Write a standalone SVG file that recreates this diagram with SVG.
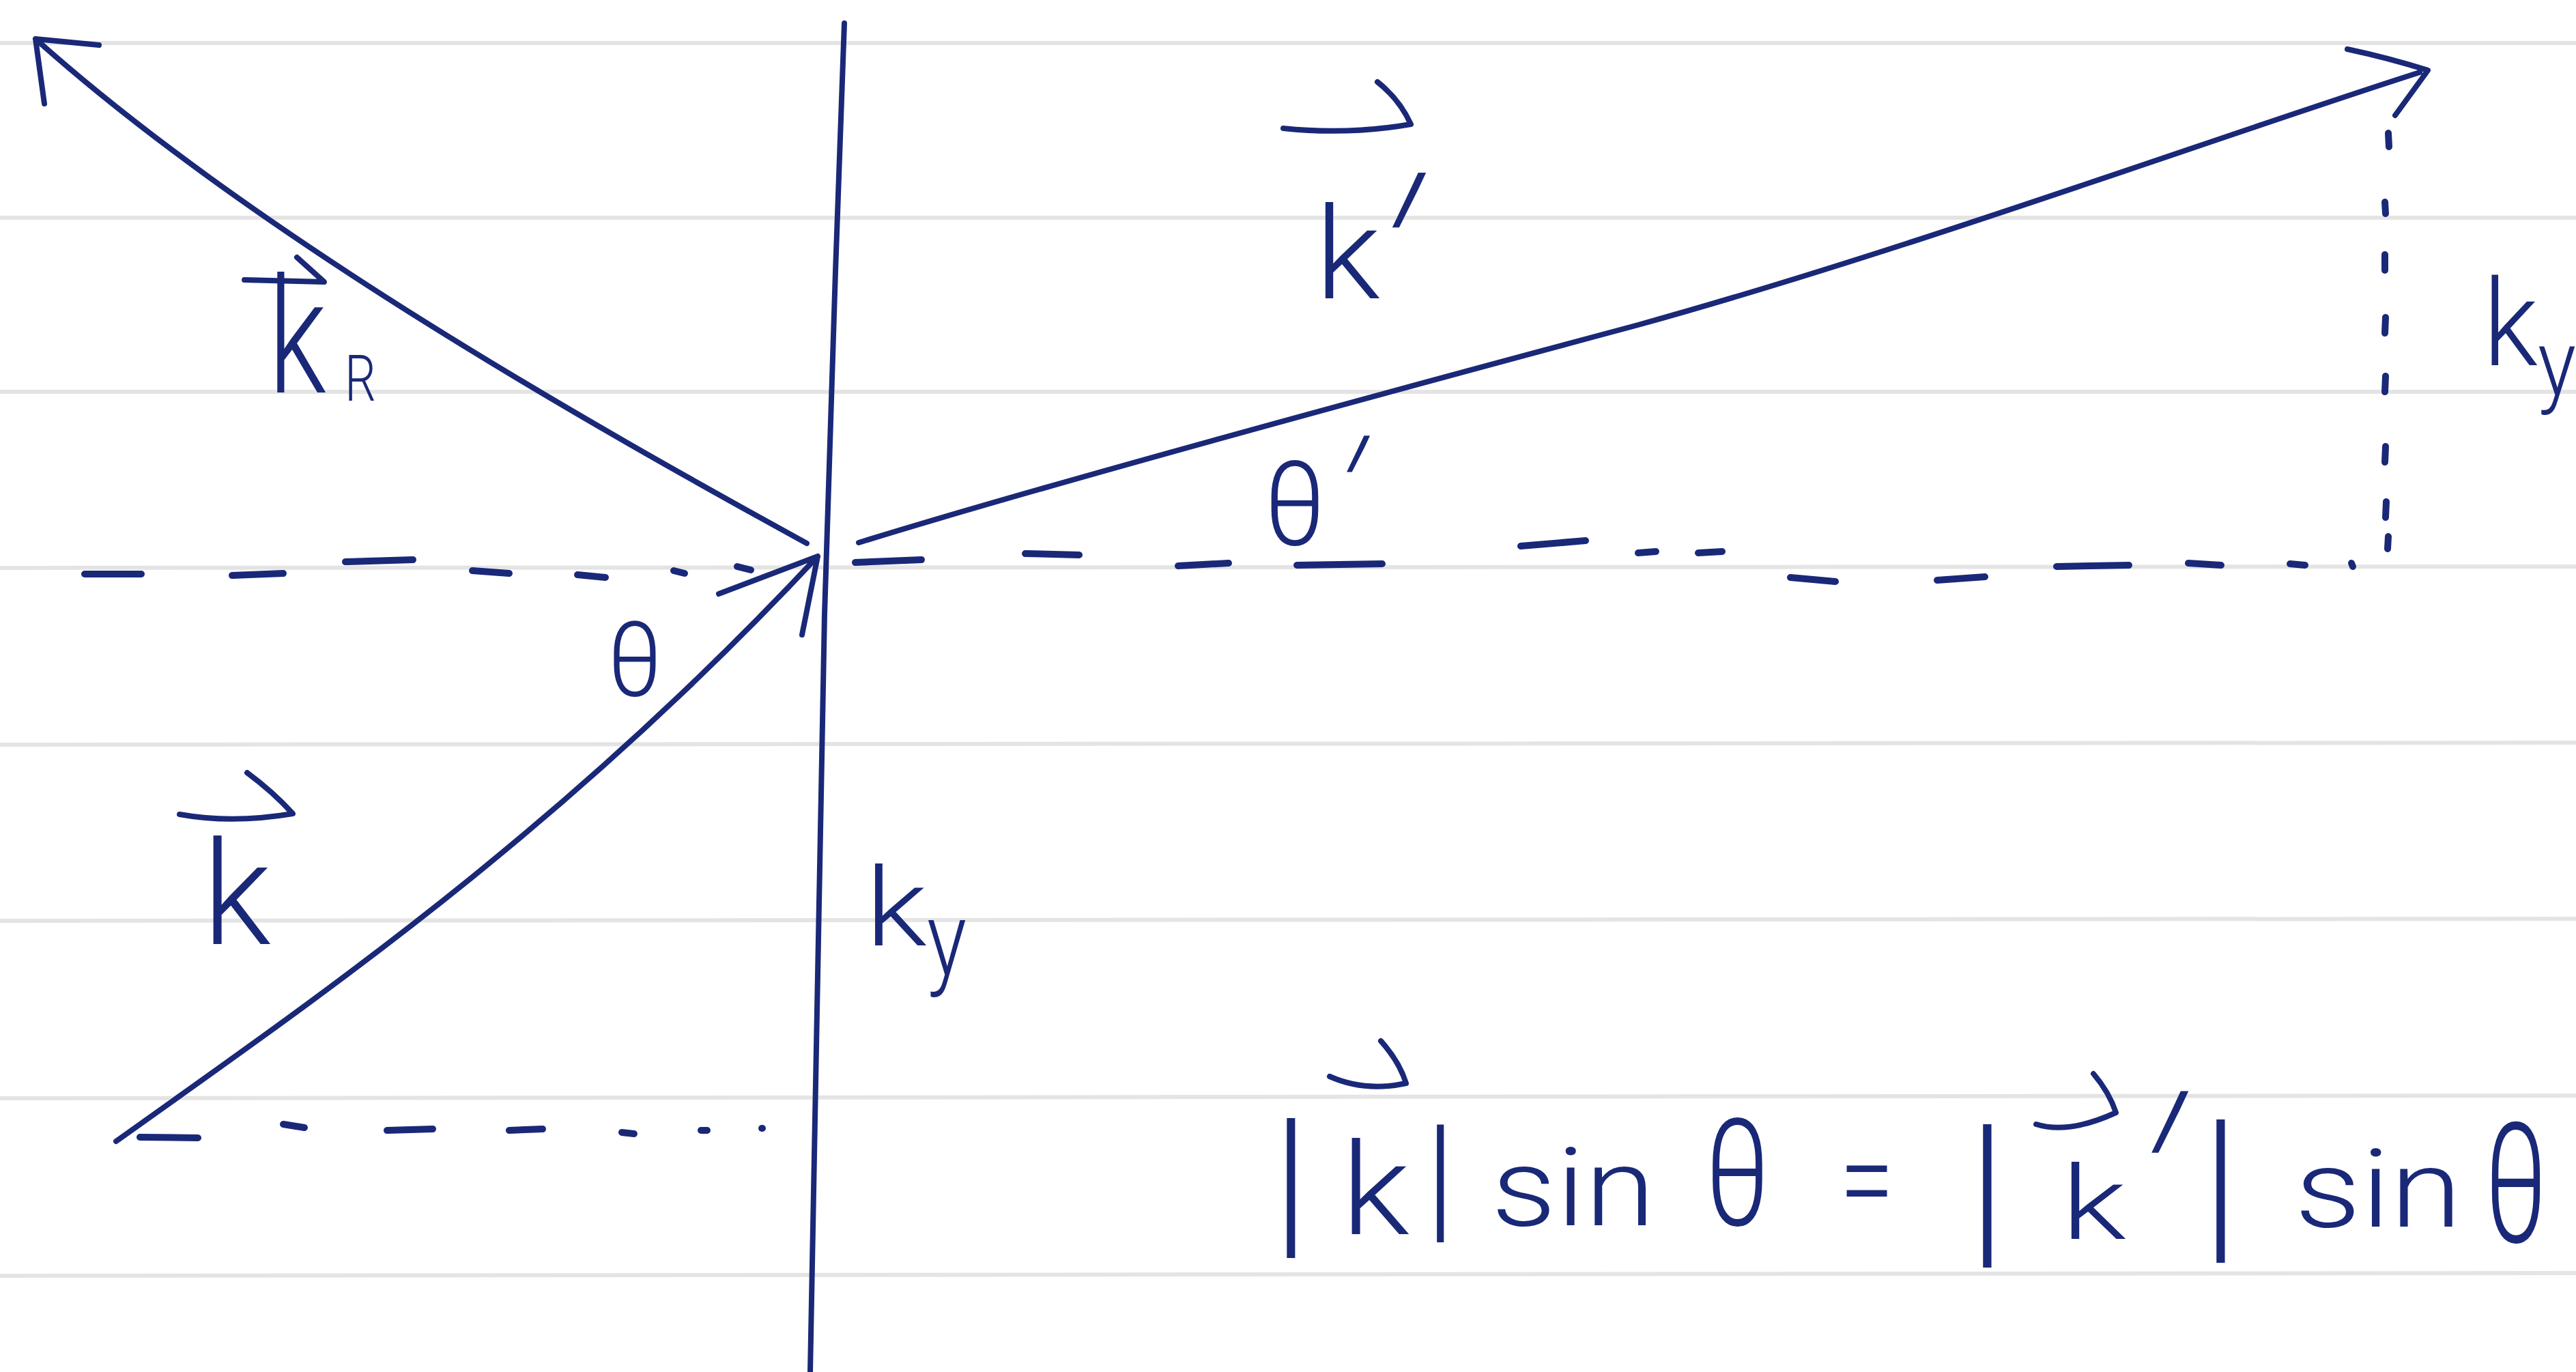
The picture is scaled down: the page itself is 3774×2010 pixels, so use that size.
<svg xmlns="http://www.w3.org/2000/svg" width="3774" height="2010" viewBox="0 0 3774 2010">
<defs>
<style>
.rule{stroke:#e4e4e4;stroke-width:6;fill:none}
.ink{fill:none;stroke:#1a2878;stroke-width:8;stroke-linecap:round;stroke-linejoin:round}
.dash{fill:none;stroke:#1a2878;stroke-width:10;stroke-linecap:round}
.t{font-family:"Roboto","Liberation Sans",sans-serif;font-weight:300;fill:#1a2878}
.m{text-anchor:middle}
</style>
</defs>
<rect width="3774" height="2010" fill="#ffffff"/>
<g id="paper-rules">
<line class="rule" x1="0" y1="63" x2="3774" y2="63"/>
<line class="rule" x1="0" y1="319" x2="3774" y2="319"/>
<line class="rule" x1="0" y1="574" x2="3774" y2="574"/>
<line class="rule" x1="0" y1="832" x2="3774" y2="830"/>
<line class="rule" x1="0" y1="1091" x2="3774" y2="1088"/>
<line class="rule" x1="0" y1="1349" x2="3774" y2="1346"/>
<line class="rule" x1="0" y1="1609" x2="3774" y2="1605"/>
<line class="rule" x1="0" y1="1869" x2="3774" y2="1865"/>
</g>
<g id="connectors">
<path id="interface" class="ink" d="M1237,34 C1228,300 1212,700 1208,900 C1202,1250 1192,1700 1187,2010"/>
<path id="k-incident" class="ink" d="M170,1672 C460,1465 820,1220 1198,815 M1053,870 L1198,815 L1175,930"/>
<path id="k-reflected" class="ink" d="M1182,796 C880,630 380,350 52,57 M145,66 L52,57 L65,152"/>
<path id="k-transmitted" class="ink" d="M1258,795 C1500,720 1900,610 2400,476 C2800,365 3250,200 3545,106 M3439,72 Q3500,85 3557,103 L3509,169"/>
<g id="dashes-left">
<line class="dash" x1="124" y1="841" x2="207" y2="841"/>
<line class="dash" x1="340" y1="843" x2="415" y2="840"/>
<line class="dash" x1="506" y1="823" x2="605" y2="820"/>
<line class="dash" x1="692" y1="836" x2="746" y2="840"/>
<line class="dash" x1="846" y1="842" x2="887" y2="846"/>
<line class="dash" x1="987" y1="836" x2="1003" y2="840"/>
<line class="dash" x1="1080" y1="830" x2="1100" y2="835"/>
</g>
<g id="dashes-right">
<line class="dash" x1="1253" y1="824" x2="1350" y2="820"/>
<line class="dash" x1="1502" y1="811" x2="1581" y2="813"/>
<line class="dash" x1="1726" y1="829" x2="1800" y2="825"/>
<line class="dash" x1="1900" y1="828" x2="2025" y2="826"/>
<line class="dash" x1="2228" y1="800" x2="2323" y2="792"/>
<line class="dash" x1="2400" y1="810" x2="2426" y2="808"/>
<line class="dash" x1="2488" y1="810" x2="2523" y2="808"/>
<line class="dash" x1="2623" y1="846" x2="2689" y2="852"/>
<line class="dash" x1="2838" y1="850" x2="2908" y2="845"/>
<line class="dash" x1="3013" y1="830" x2="3119" y2="828"/>
<line class="dash" x1="3206" y1="825" x2="3254" y2="828"/>
<line class="dash" x1="3355" y1="826" x2="3377" y2="828"/>
<line class="dash" x1="3445" y1="825" x2="3447" y2="830"/>
</g>
<g id="dashes-vertical">
<line class="dash" x1="3499" y1="195" x2="3500" y2="215"/>
<line class="dash" x1="3494" y1="296" x2="3495" y2="313"/>
<line class="dash" x1="3494" y1="373" x2="3494" y2="396"/>
<line class="dash" x1="3495" y1="465" x2="3494" y2="488"/>
<line class="dash" x1="3495" y1="551" x2="3494" y2="574"/>
<line class="dash" x1="3495" y1="654" x2="3494" y2="677"/>
<line class="dash" x1="3496" y1="735" x2="3495" y2="758"/>
<line class="dash" x1="3499" y1="786" x2="3498" y2="804"/>
</g>
<g id="dashes-bottom">
<line class="dash" x1="205" y1="1666" x2="290" y2="1667"/>
<line class="dash" x1="415" y1="1647" x2="446" y2="1652"/>
<line class="dash" x1="567" y1="1656" x2="634" y2="1654"/>
<line class="dash" x1="746" y1="1656" x2="795" y2="1654"/>
<line class="dash" x1="911" y1="1659" x2="929" y2="1661"/>
<line class="dash" x1="1027" y1="1656" x2="1036" y2="1656"/>
<line class="dash" x1="1116" y1="1653" x2="1117" y2="1653"/>
</g>
</g>
<g id="label-kR">
<path class="ink" d="M358,410 L475,413 L435,377"/>
<text class="t" x="393" y="575" font-size="236" textLength="85" lengthAdjust="spacingAndGlyphs">k</text>
<text class="t" x="505" y="587" font-size="94" textLength="46" lengthAdjust="spacingAndGlyphs">R</text>
</g>
<g id="label-k">
<path class="ink" d="M263,1193 Q340,1207 429,1192 Q400,1160 362,1132"/>
<text class="t" x="297" y="1383" font-size="212" textLength="100" lengthAdjust="spacingAndGlyphs">k</text>
</g>
<g id="label-theta">
<text class="t" x="890" y="1020" font-size="153" textLength="80" lengthAdjust="spacingAndGlyphs">θ</text>
</g>
<g id="label-ky-mid">
<text class="t" x="1268" y="1385" font-size="160" textLength="90" lengthAdjust="spacingAndGlyphs">k</text>
<text class="t" x="1358" y="1428" font-size="153" textLength="58" lengthAdjust="spacingAndGlyphs">y</text>
</g>
<g id="label-kprime">
<path class="ink" d="M1880,188 Q1975,198 2067,182 Q2050,145 2018,120"/>
<text class="t" x="1927" y="437" font-size="187" textLength="95" lengthAdjust="spacingAndGlyphs">k</text>
<text class="t" transform="translate(1935,529) skewX(-25) scale(1,1.6)" font-size="230">′</text>
</g>
<g id="label-thetaprime">
<text class="t" x="1852" y="798" font-size="172" textLength="90" lengthAdjust="spacingAndGlyphs">θ</text>
<text class="t" transform="translate(1902,822) skewX(-25) scale(1,1.4)" font-size="175">′</text>
</g>
<g id="label-ky-right">
<text class="t" x="3638" y="535" font-size="176" textLength="80" lengthAdjust="spacingAndGlyphs">k</text>
<text class="t" x="3718" y="579" font-size="136" textLength="56" lengthAdjust="spacingAndGlyphs">y</text>
</g>
<g id="equation">
<text class="t m" x="1891" y="1811" font-size="244">|</text>
<path class="ink" d="M1948,1577 Q2000,1600 2060,1587 Q2050,1555 2023,1525"/>
<text class="t" x="1965" y="1808" font-size="188" textLength="100" lengthAdjust="spacingAndGlyphs">k</text>
<text class="t m" x="2110" y="1793" font-size="205">|</text>
<text class="t" x="2185" y="1795" font-size="160" textLength="240" lengthAdjust="spacingAndGlyphs">sin</text>
<text class="t" x="2498" y="1795" font-size="219" textLength="95" lengthAdjust="spacingAndGlyphs">θ</text>
<text class="t" x="2695" y="1790" font-size="180" textLength="80" lengthAdjust="spacingAndGlyphs">=</text>
<text class="t m" x="2911" y="1824" font-size="249">|</text>
<path class="ink" d="M2983,1647 Q3030,1662 3100,1630 Q3090,1600 3067,1573"/>
<text class="t" x="3020" y="1815" font-size="150" textLength="95" lengthAdjust="spacingAndGlyphs">k</text>
<text class="t" transform="translate(3036,1909) skewX(-25) scale(1,1.8)" font-size="230">′</text>
<text class="t m" x="3253" y="1817" font-size="249">|</text>
<text class="t" x="3362" y="1797" font-size="160" textLength="245" lengthAdjust="spacingAndGlyphs">sin</text>
<text class="t" x="3640" y="1820" font-size="245" textLength="92" lengthAdjust="spacingAndGlyphs">θ</text>
</g>
</svg>
